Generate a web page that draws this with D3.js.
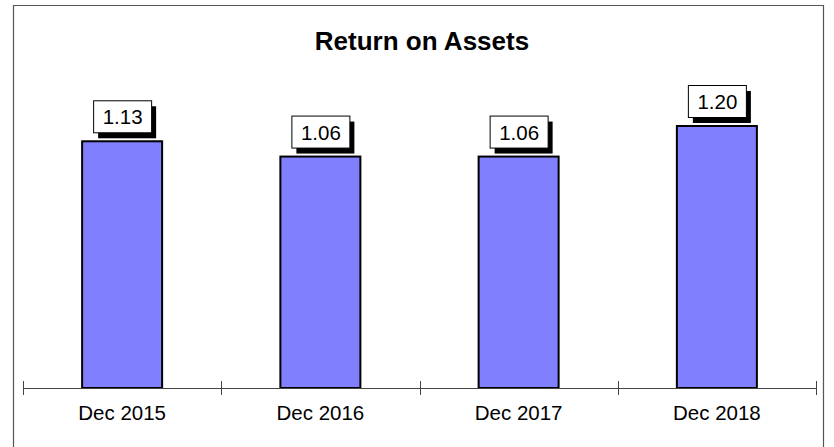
<!DOCTYPE html>
<html><head><meta charset="utf-8">
<script src="https://cdn.jsdelivr.net/npm/d3@7"></script>
<style>body{margin:0;background:#fff}svg{display:block}</style>
</head><body>
<script>
const categories = ["Dec 2015", "Dec 2016", "Dec 2017", "Dec 2018"];
const values = [1.13, 1.06, 1.06, 1.20];
const valueLabels = ["1.13", "1.06", "1.06", "1.20"];
const title = "Return on Assets";

const W = 834, H = 447;
const svg = d3.select("body").append("svg").attr("width", W).attr("height", H);
const font = "Liberation Sans, Arial, sans-serif";

// frame
svg.append("path").attr("d", `M13.5,${H} V5.5 H823.5 V${H}`).attr("fill","none")
  .attr("stroke","#555").attr("stroke-width",1.2);

svg.append("text").attr("x", 422).attr("y", 50).attr("text-anchor","middle")
  .attr("font-family", font).attr("font-weight","bold").attr("font-size", 26).text(title);

const x = d3.scaleBand().domain(categories).range([23, 816]).paddingInner(0).paddingOuter(0);
const y = d3.scaleLinear().domain([0, 1.5]).range([388, 60.5]);

// bars
svg.selectAll("rect.bar").data(values).enter().append("rect").attr("class","bar")
  .attr("x", (d,i) => x(categories[i]) + x.bandwidth()/2 - 40)
  .attr("width", 80)
  .attr("y", d => y(d))
  .attr("height", d => y(0) - y(d))
  .attr("fill", "#8080FF").attr("stroke", "#000").attr("stroke-width", 2);

// axis
const axis = svg.append("g");
axis.append("line").attr("x1", 23).attr("x2", 816).attr("y1", 388.5).attr("y2", 388.5)
  .attr("stroke","#444").attr("stroke-width",1);
const tickXs = categories.map(c => x(c)).concat([x(categories[categories.length-1]) + x.bandwidth()]);
axis.selectAll("line.tick").data(tickXs).enter().append("line")
  .attr("x1", d => Math.round(d)+0.5).attr("x2", d => Math.round(d)+0.5)
  .attr("y1", 381).attr("y2", 395).attr("stroke","#444");
axis.selectAll("text").data(categories).enter().append("text")
  .attr("x", d => x(d) + x.bandwidth()/2).attr("y", 420)
  .attr("text-anchor","middle").attr("font-family", font).attr("font-size", 20.5).text(d => d);

// value labels
const lab = svg.selectAll("g.lab").data(values).enter().append("g").attr("class","lab")
  .attr("transform", (d,i) => `translate(${x(categories[i]) + x.bandwidth()/2},${y(d) - 8})`);
lab.append("rect").attr("x", -24).attr("y", -27).attr("width", 58).attr("height", 32).attr("fill","#000");
lab.append("rect").attr("x", -28.5).attr("y", -32.5).attr("width", 58).attr("height", 32)
  .attr("fill","#fff").attr("stroke","#000").attr("stroke-width",1);
lab.append("text").attr("x", 0.5).attr("y", -9).attr("text-anchor","middle")
  .attr("font-family", font).attr("font-size", 20.5).text((d,i) => valueLabels[i]);
</script>
</body></html>
